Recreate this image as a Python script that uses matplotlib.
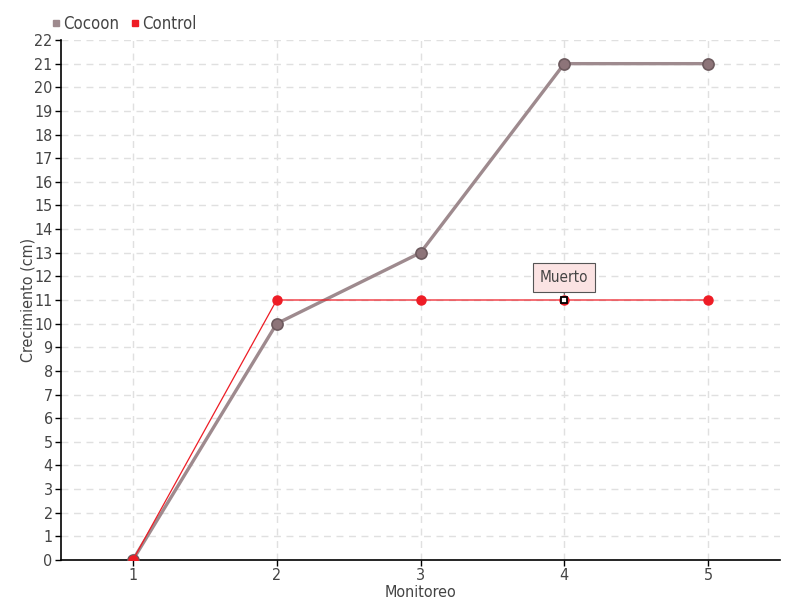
import matplotlib.pyplot as plt
from matplotlib.lines import Line2D

plt.rcParams['font.family'] = ['DejaVu Sans']
plt.rcParams['font.stretch'] = 'condensed'

# ---- Data ----
monitoreo = [1, 2, 3, 4, 5]
cocoon = [0, 10, 13, 21, 21]
control = [0, 11, 11, 11, 11]
dead_idx = 3
dead_label = "Muerto"

cocoon_color = '#9e8a8e'
control_color = '#ee1c25'
text_color = '#444444'

fig = plt.figure(figsize=(8, 6), dpi=100)
ax = fig.add_axes([0.07625, 0.0667, 0.89875, 0.8666])

# ---- Series ----
ax.plot(monitoreo, cocoon, color=cocoon_color, lw=2.4, marker='o', ms=8,
        mfc='#8d7479', mec='#6d5a5e', mew=1.2, zorder=3)
ax.plot(monitoreo, control, color=control_color, lw=0.9, marker='o', ms=6.5,
        mfc=control_color, mec=control_color, zorder=4)

# dead plant marker
ax.plot(monitoreo[dead_idx], control[dead_idx], marker='s', ms=5,
        mfc='white', mec='black', mew=1.3, zorder=6)
ax.annotate(dead_label, xy=(monitoreo[dead_idx], control[dead_idx]),
            xytext=(0, 16), textcoords='offset points', ha='center', va='center',
            fontsize=11, color=text_color,
            bbox=dict(boxstyle='square,pad=0.45', fc='#fbe3e3', ec='#555555', lw=0.8),
            arrowprops=dict(arrowstyle='-', color='#555555', lw=0.8,
                            shrinkA=0, shrinkB=4),
            zorder=7)

# ---- Axes ----
ax.set_xlim(0.5, 5.5)
ax.set_ylim(0, 22)
ax.set_xticks(monitoreo)
ax.set_yticks(range(0, 23))
ax.grid(True, color='#e0e0e0', ls=(0, (5, 4)), lw=1)
ax.set_axisbelow(True)
for s in ['top', 'right']:
    ax.spines[s].set_visible(False)
ax.spines['left'].set_linewidth(1.2)
ax.spines['bottom'].set_linewidth(1.2)
ax.tick_params(axis='both', length=4, width=1, colors='black',
               labelcolor=text_color, labelsize=11.5, pad=2)
ax.set_xlabel("Monitoreo", fontsize=11.5, color=text_color)
ax.set_ylabel("Crecimiento (cm)", fontsize=11.5, color=text_color)
ax.xaxis.set_label_coords(0.5, -0.048)
ax.yaxis.set_label_coords(-0.036, 0.5)

# ---- Legend ----
handles = [Line2D([], [], ls='', marker='s', ms=4, color=cocoon_color, label='Cocoon'),
           Line2D([], [], ls='', marker='s', ms=4, color=control_color, label='Control')]
fig.legend(handles=handles, loc='upper left', bbox_to_anchor=(0.043, 1.0),
           ncol=2, frameon=False, fontsize=12, handletextpad=0.05,
           columnspacing=0.5, handlelength=0.8, labelcolor=text_color)

fig.savefig('out.png', dpi=100)
